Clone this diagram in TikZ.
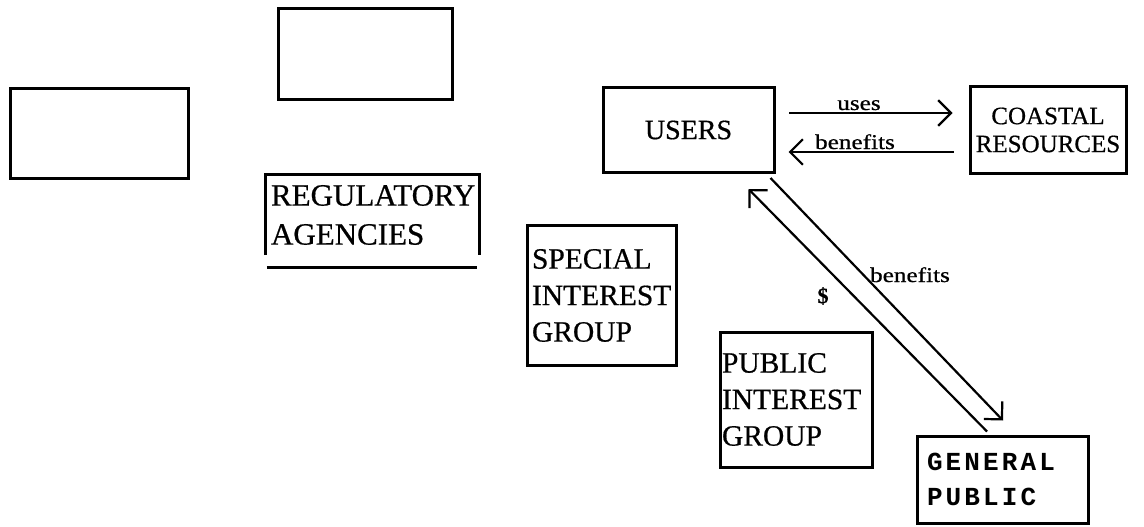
\documentclass[tikz,border=0pt]{standalone}
\usepackage{fontspec}
\setmainfont{Liberation Serif}[FakeBold = 0.6]
\newfontfamily\lblfont{Liberation Serif}[FakeStretch = 1.2, FakeBold = 0.8]
\newfontfamily\gpfont{Liberation Mono}[LetterSpace = 12]
\usetikzlibrary{arrows.meta, calc}

\tikzset{
    box/.style = {draw, line width = 3pt, inner sep = 0pt},
    arr/.style = {line width = 2.2pt, -{Straight Barb[angle = 90:18pt]}},
    lbl/.style = {inner sep = 0pt, font = \lblfont\fontsize{21}{21}\selectfont},
    big/.style = {font = \fontsize{29.5}{36.5}\selectfont, align = left}
}

\begin{document}
\begin{tikzpicture}[x = 1pt, y = -1pt]
    \useasboundingbox (0, 0) rectangle (1144, 527);
    \node[box, minimum width = 178pt, minimum height = 90pt] (blankA) at (99, 133.5) {};
    \node[box, minimum width = 174pt, minimum height = 91pt] (blankB) at (365, 54.5) {};
    \node[inner sep = 0pt, inner xsep = 5pt, text width = 203pt, minimum height = 80pt, big,
        font = \fontsize{31}{39}\selectfont] (reg) at (372.5, 215) {REGULATORY\\AGENCIES};
    \draw[line width = 3pt] (reg.south west) -- (reg.north west) -- (reg.north east) -- (reg.south east);
    \draw[line width = 3pt] ($(reg.south west) + (1, 12)$) -- ($(reg.south east) + (-2, 12)$);
    \node[box, inner xsep = 5pt, text width = 139pt, minimum height = 140pt, big] (special) at (601.5, 295.5) {SPECIAL\\INTEREST\\GROUP};
    \node[box, inner xsep = 2pt, text width = 148pt, minimum height = 135pt, big] (public) at (796, 399.5) {PUBLIC\\INTEREST\\GROUP};
    \node[box, minimum width = 171pt, minimum height = 85pt, font = \fontsize{28}{28}\selectfont] (users) at (688.5, 130) {USERS};
    \node[box, minimum width = 156pt, minimum height = 87pt, align = center,
        font = \fontsize{25}{28}\selectfont] (coastal) at (1048, 130) {COASTAL\\RESOURCES};
    \node[box, inner xsep = 10pt, text width = 151pt, minimum height = 87pt, align = left,
        font = \gpfont\bfseries\fontsize{26}{35}\selectfont] (general) at (1002.5, 479.5) {GENERAL\\PUBLIC};
    \draw[arr] ($(users.east) + (13.5, -17)$) -- ($(coastal.west) + (-16, -17)$);
    \draw[arr] ($(coastal.west) + (-15, 22)$) -- ($(users.east) + (13, 22)$);
    \node[lbl, anchor = base] (usesl) at (859, 110) {uses};
    \node[lbl, anchor = base] (benl) at (855, 149) {benefits};
    \draw[arr] ($(users.south east) + (-5, 4)$) -- ($(general.north) + (0.5, -14)$);
    \draw[arr] ($(general.north) + (-15.5, -3)$) -- ($(users.south east) + (-27, 15)$);
    \node[lbl, anchor = base] (benpub) at (910, 282) {benefits};
    \node[inner sep = 0pt, font = \bfseries\fontsize{22}{22}\selectfont] (dollar) at (823, 296) {\$};
\end{tikzpicture}
\end{document}
